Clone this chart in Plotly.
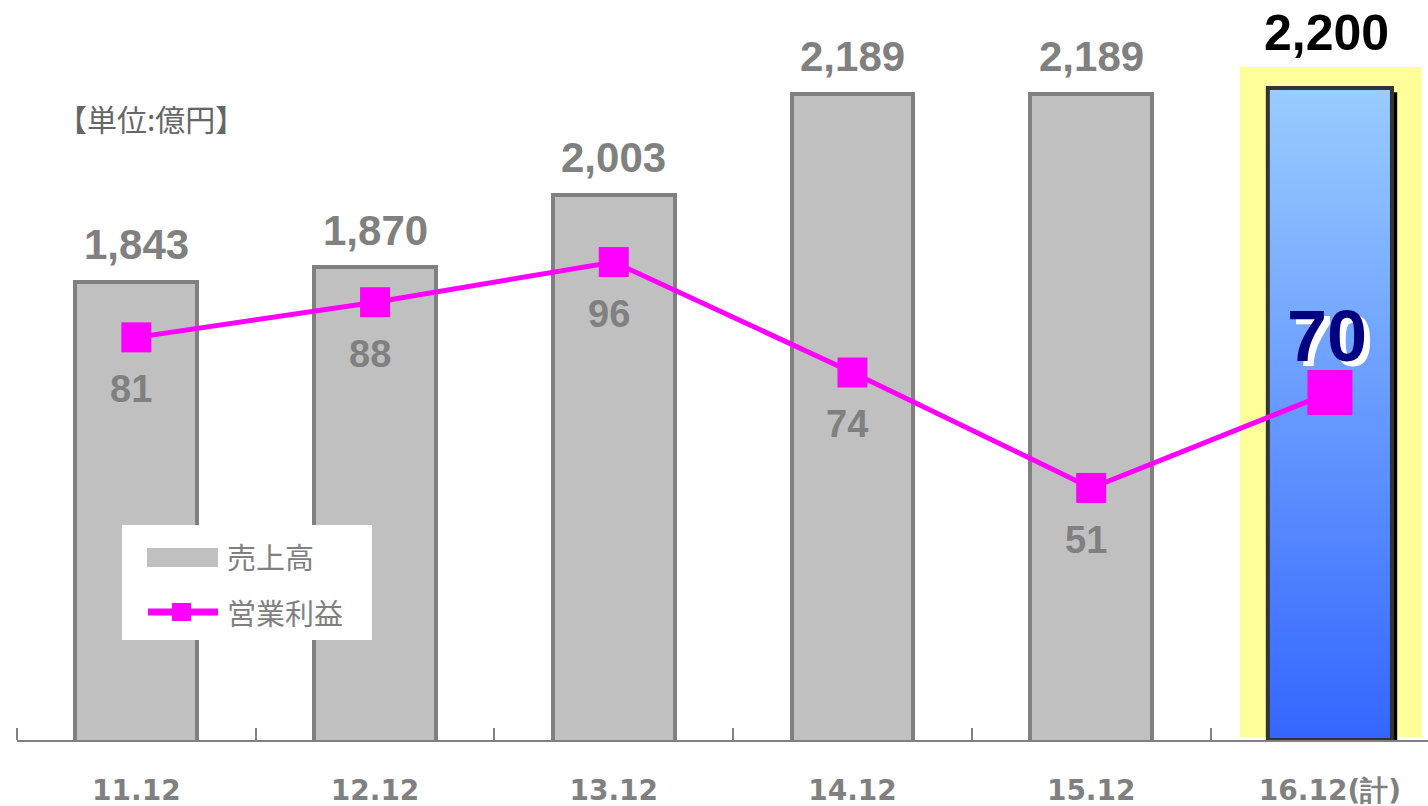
import plotly.graph_objects as go

# ---------------- data ----------------
categories = ["11.12", "12.12", "13.12", "14.12", "15.12", "16.12(計)"]
sales = [1843, 1870, 2003, 2189, 2189, 2200]
sales_labels = ["1,843", "1,870", "2,003", "2,189", "2,189", "2,200"]
op_profit = [81, 88, 96, 74, 51, 70]
op_labels = ["81", "88", "96", "74", "51", "70"]
legend_names = ["売上高", "営業利益"]
unit_text = "【単位:億円】"

# ---------------- layout constants ----------------
W, H = 1428, 806
ML, MR, MT, MB = 17, 0, 10, 66
PW, PH = W - ML - MR, H - MT - MB
Y1_MIN, Y1_MAX = 1000, 2343.4
Y2_MIN, Y2_MAX = 0.8, 146.2
BAR_W = 0.51
GRAY_TXT = "#808080"
MAGENTA = "#ff00ff"
NUM_FONT = "Liberation Sans, Arial, sans-serif"
CJK_FONT = "Noto Sans CJK JP, sans-serif"


def px(xp):
    return (xp - ML) / PW


def py(yp):
    return (H - MB - yp) / PH


x = list(range(len(categories)))
n_act = len(categories) - 1
xf = x[-1]
half = 0.26

fig = go.Figure()

# actual years (gray bars)
fig.add_trace(go.Bar(
    x=x[:n_act], y=sales[:n_act], width=BAR_W, yaxis="y",
    marker=dict(color="#c0c0c0", line=dict(color="#808080", width=4)),
    showlegend=False, hoverinfo="skip", name=legend_names[0]))

# forecast bar: shadow + gradient-filled bar
sh = 0.022
fig.add_trace(go.Scatter(
    x=[xf + half, xf + half + sh, xf + half + sh, xf + half, xf + half],
    y=[sales[-1] - 8, sales[-1] - 8, Y1_MIN, Y1_MIN, sales[-1] - 8],
    mode="lines", fill="toself", fillcolor="#000000",
    line=dict(color="#000000", width=0), yaxis="y",
    showlegend=False, hoverinfo="skip"))
fig.add_trace(go.Scatter(
    x=[xf - half, xf + half, xf + half, xf - half, xf - half],
    y=[Y1_MIN, Y1_MIN, sales[-1], sales[-1], Y1_MIN],
    mode="lines", fill="toself",
    fillgradient=dict(type="vertical",
                      colorscale=[[0, "#3366ff"], [1, "#99ccff"]]),
    line=dict(color="#333333", width=4), yaxis="y",
    showlegend=False, hoverinfo="skip"))

# operating profit line
fig.add_trace(go.Scatter(
    x=x, y=op_profit, yaxis="y2", mode="lines+markers",
    line=dict(color=MAGENTA, width=5),
    marker=dict(symbol="square", color=MAGENTA, opacity=1,
                line=dict(width=0, color=MAGENTA),
                size=[30] * n_act + [45]),
    showlegend=False, hoverinfo="skip", name=legend_names[1]))

shapes = []
# yellow highlight behind forecast bar
shapes.append(dict(type="rect", xref="x", yref="y", layer="below",
                   x0=xf - 0.377, x1=xf + 0.385,
                   y0=Y1_MIN + 5.5, y1=sales[-1] + 38.5,
                   fillcolor="#ffff99", line=dict(width=0)))
# manual legend
shapes.append(dict(type="rect", xref="paper", yref="paper",
                   x0=px(122), x1=px(372), y0=py(640), y1=py(525),
                   fillcolor="white", line=dict(width=0)))
shapes.append(dict(type="rect", xref="paper", yref="paper",
                   x0=px(147), x1=px(218), y0=py(567), y1=py(548),
                   fillcolor="#c0c0c0", line=dict(width=0)))
shapes.append(dict(type="line", xref="paper", yref="paper",
                   x0=px(148), x1=px(218), y0=py(612), y1=py(612),
                   line=dict(color=MAGENTA, width=7)))
shapes.append(dict(type="rect", xref="paper", yref="paper",
                   x0=px(172), x1=px(191), y0=py(621), y1=py(603),
                   fillcolor=MAGENTA, line=dict(width=0)))

annotations = []
for i in range(len(categories)):
    last = i == len(categories) - 1
    annotations.append(dict(
        x=x[i], y=sales[i], xref="x", yref="y", text=sales_labels[i],
        showarrow=False, xanchor="center", yanchor="middle",
        yshift=55 if last else 37, xshift=-3 if last else 0,
        font=dict(family=NUM_FONT, size=50 if last else 42,
                  color="#000000" if last else GRAY_TXT, weight="bold")))
    if last:
        annotations.append(dict(
            x=x[i], y=op_profit[i], xref="x", yref="y2", text=op_labels[i],
            showarrow=False, xanchor="center", yanchor="middle",
            yshift=57, xshift=-3,
            font=dict(family="Liberation Sans Narrow, Arial Narrow, sans-serif",
                      size=72, color="#000080", weight="bold",
                      shadow="6px 5px 0px #ffffff")))
    else:
        annotations.append(dict(
            x=x[i], y=op_profit[i], xref="x", yref="y2", text=op_labels[i],
            showarrow=False, xanchor="center", yanchor="middle",
            yshift=-52, xshift=-5,
            font=dict(family=NUM_FONT, size=38, color=GRAY_TXT,
                      weight="bold")))

annotations.append(dict(x=px(55), y=py(118), xref="paper", yref="paper",
                        text=unit_text, showarrow=False, xanchor="left",
                        yanchor="middle",
                        font=dict(family=CJK_FONT, size=30, color="#666666")))
annotations.append(dict(x=px(225), y=py(556), xref="paper", yref="paper",
                        text=legend_names[0], showarrow=False, xanchor="left",
                        yanchor="middle",
                        font=dict(family=CJK_FONT, size=29, color=GRAY_TXT)))
annotations.append(dict(x=px(225), y=py(612), xref="paper", yref="paper",
                        text=legend_names[1], showarrow=False, xanchor="left",
                        yanchor="middle",
                        font=dict(family=CJK_FONT, size=29, color=GRAY_TXT)))

fig.update_layout(
    width=W, height=H,
    margin=dict(l=ML, r=MR, t=MT, b=MB, pad=0, autoexpand=False),
    paper_bgcolor="white", plot_bgcolor="white",
    showlegend=False, bargap=0,
    shapes=shapes, annotations=annotations,
    xaxis=dict(range=[-0.5, 5.411], tickmode="array", tickvals=x,
               ticktext=categories, ticks="", showgrid=False, zeroline=False,
               automargin=False,
               showline=True, linecolor="#808080", linewidth=2,
               ticklabelstandoff=24,
               tickfont=dict(family="DejaVu Sans, sans-serif", size=28,
                             color=GRAY_TXT, weight="bold"),
               minor=dict(ticks="inside", tick0=-0.5, dtick=1, ticklen=12,
                          tickcolor="#808080", tickwidth=2, showgrid=False)),
    yaxis=dict(range=[Y1_MIN, Y1_MAX], visible=False, showgrid=False,
               zeroline=False, automargin=False),
    yaxis2=dict(range=[Y2_MIN, Y2_MAX], overlaying="y", visible=False,
                showgrid=False, zeroline=False, automargin=False),
)

fig.write_html(
    "out.html",
    config={"displayModeBar": False},
    post_script="document.body.style.margin='0';"
                "document.body.style.overflow='hidden';")
